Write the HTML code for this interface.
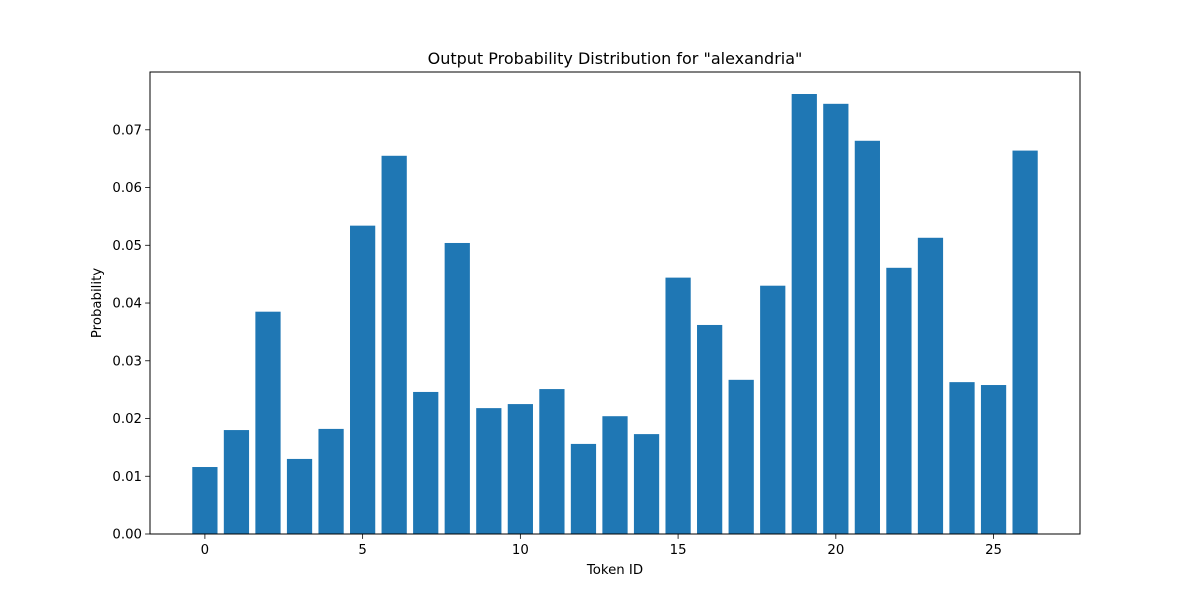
<!DOCTYPE html>
<html><head><meta charset="utf-8"><style>
body{margin:0;background:#fff;}
svg{display:block;font-family:"DejaVu Sans","Liberation Sans",sans-serif;}
</style></head><body>
<svg id="chart" width="1200" height="600" xmlns="http://www.w3.org/2000/svg"></svg>
<script>
const tokenIds = [0,1,2,3,4,5,6,7,8,9,10,11,12,13,14,15,16,17,18,19,20,21,22,23,24,25,26];
const probabilities = [0.0116,0.0180,0.0385,0.0130,0.0182,0.0534,0.0655,0.0246,0.0504,0.0218,0.0225,0.0251,0.0156,0.0204,0.0173,0.0444,0.0362,0.0267,0.0430,0.0762,0.0745,0.0681,0.0461,0.0513,0.0263,0.0258,0.0664];
const xTicks = [0,5,10,15,20,25];
const yTicks = [0,0.01,0.02,0.03,0.04,0.05,0.06,0.07];

const svg = document.getElementById('chart');
const NS = 'http://www.w3.org/2000/svg';
const L=150,R=1080,T=72,B=534;
const xmin = tokenIds[0]-0.4, xmax = tokenIds[tokenIds.length-1]+0.4;
const xpad = (xmax-xmin)*0.05;
const x0 = xmin-xpad, x1 = xmax+xpad;
const ymax = Math.max(...probabilities)*1.05;
const xs = v => L + (v-x0)/(x1-x0)*(R-L);
const ys = v => B - v/ymax*(B-T);
function mk(tag, attrs){const e=document.createElementNS(NS,tag);for(const k in attrs)e.setAttribute(k,attrs[k]);svg.appendChild(e);return e;}

tokenIds.forEach((id,i)=>{
  const r = mk('rect',{x:xs(id-0.4),y:ys(probabilities[i]),width:xs(id+0.4)-xs(id-0.4),height:B-ys(probabilities[i]),fill:'#1f77b4'});
  
  
});
const frame = mk('rect',{x:L,y:T,width:R-L,height:B-T,fill:'none',stroke:'#000','stroke-width':1});



xTicks.forEach(t=>{
  const x=xs(t);
  const tk = mk('line',{x1:x,x2:x,y1:B,y2:B+4.9,stroke:'#000','stroke-width':0.8});
  
  
  const tx = mk('text',{x:x,y:B+20,'text-anchor':'middle','font-size':13.3});
  tx.textContent=t;
  
  
});
yTicks.forEach(t=>{
  const y=ys(t);
  const tk = mk('line',{x1:L-4.9,x2:L,y1:y,y2:y,stroke:'#000','stroke-width':0.8});
  
  
  const tx = mk('text',{x:L-8,y:y+4.7,'text-anchor':'end','font-size':13.3});
  tx.textContent=t.toFixed(2);
  
  
});
const xl = mk('text',{x:(L+R)/2,y:574,'text-anchor':'middle','font-size':13.3});
xl.textContent='Token ID';


const yl = mk('text',{x:0,y:0,'text-anchor':'middle','font-size':13.3,transform:'translate(101,'+((T+B)/2)+') rotate(-90)'});
yl.textContent='Probability';


const ti = mk('text',{x:(L+R)/2,y:64,'text-anchor':'middle','font-size':16});
ti.textContent='Output Probability Distribution for "alexandria"';


</script>
</body></html>
